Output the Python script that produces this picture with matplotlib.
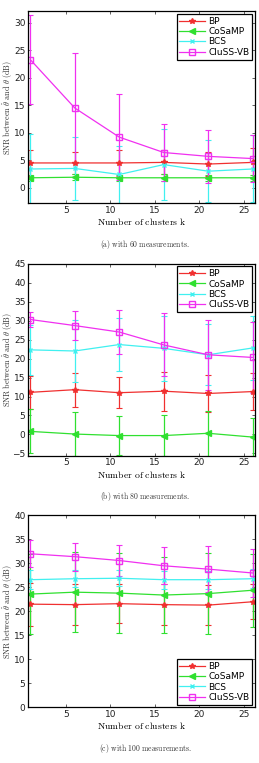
import matplotlib
matplotlib.use("Agg")
import matplotlib.pyplot as plt
from matplotlib.lines import Line2D
import numpy as np

# -------- DATA --------
clusters = [1, 6, 11, 16, 21, 26]
methods = ["BP", "CoSaMP", "BCS", "CluSS-VB"]

# (a) 60 measurements
snr_60 = {
    "BP":       [4.5, 4.5, 4.5, 4.6, 4.3, 4.6],
    "CoSaMP":   [1.8, 1.9, 1.8, 1.8, 1.8, 1.8],
    "BCS":      [3.4, 3.5, 2.4, 4.2, 3.0, 3.4],
    "CluSS-VB": [23.3, 14.5, 9.2, 6.4, 5.7, 5.3],
}
std_60 = {
    "BP":       [2.3, 2.0, 2.3, 2.2, 2.2, 2.6],
    "CoSaMP":   [0.5, 0.5, 0.5, 0.6, 0.5, 0.5],
    "BCS":      [6.4, 5.8, 5.2, 6.5, 5.6, 6.1],
    "CluSS-VB": [8.1, 10.0, 7.8, 5.2, 4.8, 4.3],
}

# (b) 80 measurements
snr_80 = {
    "BP":       [11.1, 11.8, 11.0, 11.4, 10.8, 11.3],
    "CoSaMP":   [0.8, 0.1, -0.3, -0.3, 0.3, -0.7],
    "BCS":      [22.3, 22.0, 23.7, 22.7, 21.0, 22.8],
    "CluSS-VB": [30.3, 28.7, 27.0, 23.6, 21.0, 20.3],
}
std_80 = {
    "BP":       [4.4, 4.5, 4.1, 5.1, 4.8, 4.9],
    "CoSaMP":   [5.8, 5.9, 5.1, 5.5, 5.9, 5.1],
    "BCS":      [6.5, 8.2, 7.0, 8.6, 8.0, 8.5],
    "CluSS-VB": [2.1, 3.9, 5.8, 8.3, 9.2, 9.4],
}

# (c) 100 measurements
snr_100 = {
    "BP":       [21.5, 21.4, 21.6, 21.4, 21.3, 22.0],
    "CoSaMP":   [23.6, 24.0, 23.8, 23.4, 23.7, 24.4],
    "BCS":      [26.6, 26.8, 26.9, 26.6, 26.6, 26.8],
    "CluSS-VB": [32.0, 31.4, 30.6, 29.5, 28.8, 28.0],
}
std_100 = {
    "BP":       [4.5, 4.2, 4.1, 4.3, 4.2, 3.6],
    "CoSaMP":   [8.3, 8.4, 8.3, 8.0, 8.4, 7.6],
    "BCS":      [2.0, 1.8, 1.7, 1.9, 1.9, 2.0],
    "CluSS-VB": [2.8, 2.9, 3.2, 3.9, 4.8, 5.1],
}

captions = ["(a) with 60 measurements.",
            "(b) with 80 measurements.",
            "(c) with 100 measurements."]

# -------- STYLE --------
plt.rcParams["mathtext.fontset"] = "cm"
plt.rcParams["font.family"] = "DejaVu Sans"

colors = {"BP": "#f03030", "CoSaMP": "#30e030", "BCS": "#40f0f0", "CluSS-VB": "#f030f0"}
markers = {"BP": "*", "CoSaMP": "<", "BCS": "x", "CluSS-VB": "s"}

fig = plt.figure(figsize=(2.59, 7.63), dpi=100)

panels = [
    (snr_60, std_60, (-2.84, 32.1), np.arange(0, 31, 5), "upper right", 0.7336),
    (snr_80, std_80, (-5.6, 45), np.arange(-5, 46, 5), "upper right", 0.4028),
    (snr_100, std_100, (0, 40), np.arange(0, 41, 5), "lower right", 0.0730),
]

for i, (snr, std, ylim, yticks, loc, bottom) in enumerate(panels):
    ax = fig.add_axes([0.109, bottom, 0.875, 0.2515])
    handles = []
    for m in methods:
        mfc = "none" if m == "CluSS-VB" else colors[m]
        ms = 3 if m == "BCS" else 4
        ax.errorbar(clusters, snr[m], yerr=std[m], color=colors[m],
                    marker=markers[m], markersize=ms, markerfacecolor=mfc,
                    lw=0.9, elinewidth=0.9, capsize=2, capthick=0.8)
        handles.append(Line2D([], [], color=colors[m], marker=markers[m],
                              markersize=ms, markerfacecolor=mfc, lw=0.9, label=m))
    ax.set_xlim(0.76, 26.25)
    ax.set_ylim(*ylim)
    ax.set_xticks([5, 10, 15, 20, 25])
    ax.set_yticks(yticks)
    ax.tick_params(direction="in", top=True, right=True, labelsize=6.5,
                   length=2, width=0.5, pad=2, colors="#222222")
    for sp in ax.spines.values():
        sp.set_linewidth(0.9)
    ax.set_xlabel(r"$\mathrm{Number\ of\ clusters\ k}$", fontsize=7, labelpad=1)
    ax.set_ylabel(r"$\mathrm{SNR\ between\ }\hat{\theta}\mathrm{\ and\ }\theta\mathrm{\ (dB)}$",
                  fontsize=5.8, color="#333333")
    ax.yaxis.set_label_coords(-0.06, 0.5)
    leg = ax.legend(handles=handles, loc=loc, fontsize=6.5, fancybox=False,
                    framealpha=1, edgecolor="black", borderaxespad=0.3,
                    handlelength=2.8, borderpad=0.3, labelspacing=0.15,
                    handletextpad=0.4)
    leg.get_frame().set_linewidth(0.9)
    fig.text(0.56, bottom - 0.0535,
             r"$\mathrm{" + captions[i].replace(" ", r"\ ") + "}$",
             ha="center", va="center", fontsize=5.5, color="#333333")

fig.savefig("out.png", dpi=100)
